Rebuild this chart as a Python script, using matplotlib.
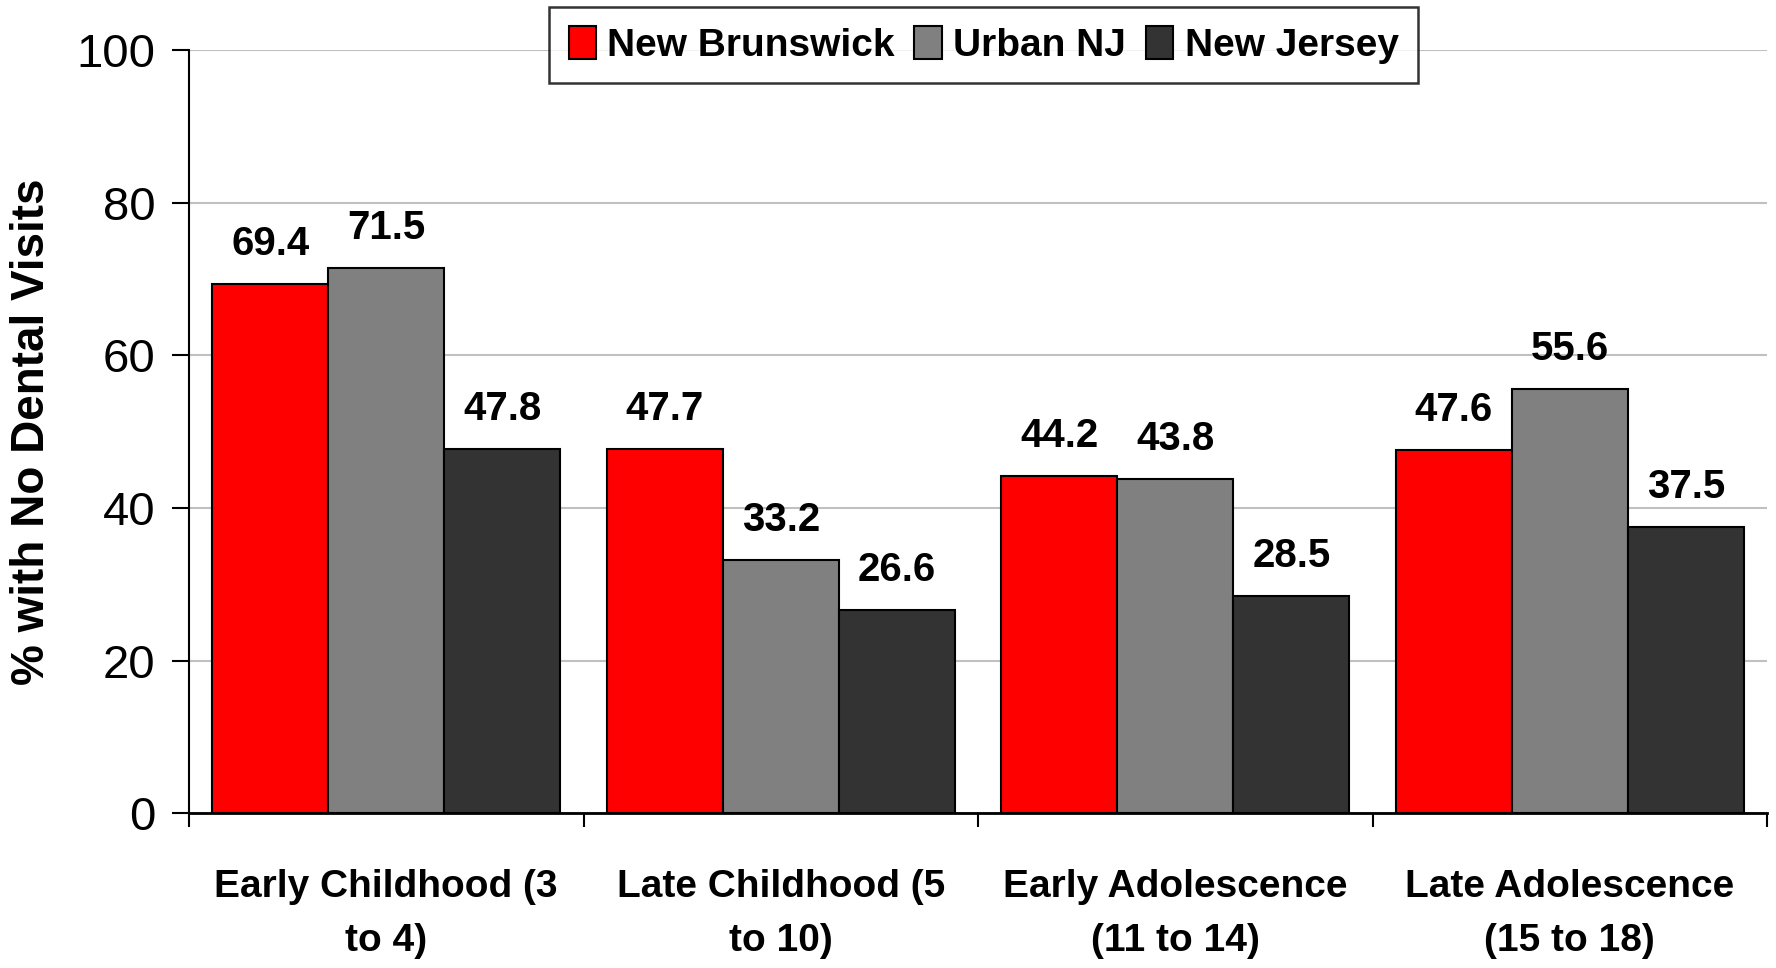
import numpy as np
import matplotlib.pyplot as plt

CATEGORIES = ["Early Childhood (3\nto 4)", "Late Childhood (5\nto 10)",
              "Early Adolescence\n(11 to 14)", "Late Adolescence\n(15 to 18)"]
SERIES = ["New Brunswick", "Urban NJ", "New Jersey"]
NEW_BRUNSWICK = [69.4, 47.7, 44.2, 47.6]
URBAN_NJ = [71.5, 33.2, 43.8, 55.6]
NEW_JERSEY = [47.8, 26.6, 28.5, 37.5]
COLORS = ["#ff0000", "#808080", "#333333"]

FONT = ["Liberation Sans", "DejaVu Sans"]

fig = plt.figure(figsize=(17.76, 9.68), dpi=100)
ax = fig.add_axes([0.1064, 0.160, 0.8886, 0.788])

x = np.arange(len(CATEGORIES))
width = 0.294
values = [NEW_BRUNSWICK, URBAN_NJ, NEW_JERSEY]

for k, (name, vals, col) in enumerate(zip(SERIES, values, COLORS)):
    bars = ax.bar(x + (k - 1) * width, vals, width, color=col, edgecolor="black",
                  linewidth=1.5, label=name, zorder=3)
    for b, v in zip(bars, vals):
        ax.annotate(f"{v:.1f}", (b.get_x() + b.get_width() / 2, v),
                    xytext=(0, 15), textcoords="offset points",
                    ha="center", va="bottom", fontsize=29, fontweight="bold",
                    family=FONT)

ax.set_xlim(-0.5, len(CATEGORIES) - 0.5)
ax.set_ylim(0, 100)
ax.set_yticks(range(0, 101, 20))
ax.set_yticklabels([str(v) for v in range(0, 101, 20)], family=FONT, fontsize=34)
ax.tick_params(axis="y", direction="out", length=12, width=1.5, pad=12)

ax.set_xticks(np.arange(-0.5, len(CATEGORIES)), minor=False)
ax.set_xticklabels([])
ax.tick_params(axis="x", which="major", direction="out", length=10, width=1.5)
ax.set_xticks(x, minor=True)
ax.set_xticklabels(CATEGORIES, minor=True, fontsize=28, fontweight="bold",
                   family=FONT, linespacing=1.65)
ax.tick_params(axis="x", which="minor", length=0, pad=40)

ax.grid(axis="y", color="#c0c0c0", linewidth=1.5, zorder=0)
ax.set_axisbelow(True)
for s in ["top", "right"]:
    ax.spines[s].set_visible(False)
ax.spines["left"].set_linewidth(1.5)
ax.spines["bottom"].set_linewidth(2)

ax.set_ylabel("% with No Dental Visits", fontsize=33, fontweight="bold",
              family=FONT, labelpad=16)

leg = ax.legend(loc="upper center", bbox_to_anchor=(0.5035, 1.057), ncol=3,
                frameon=True, fancybox=False, edgecolor="black",
                prop={"family": FONT, "size": 28, "weight": "bold"},
                handlelength=0.7, handleheight=0.9, handletextpad=0.3,
                columnspacing=0.5, borderpad=0.5, borderaxespad=0)
leg.get_frame().set_linewidth(1.8)

fig.savefig("out.png", dpi=100, facecolor="white")
